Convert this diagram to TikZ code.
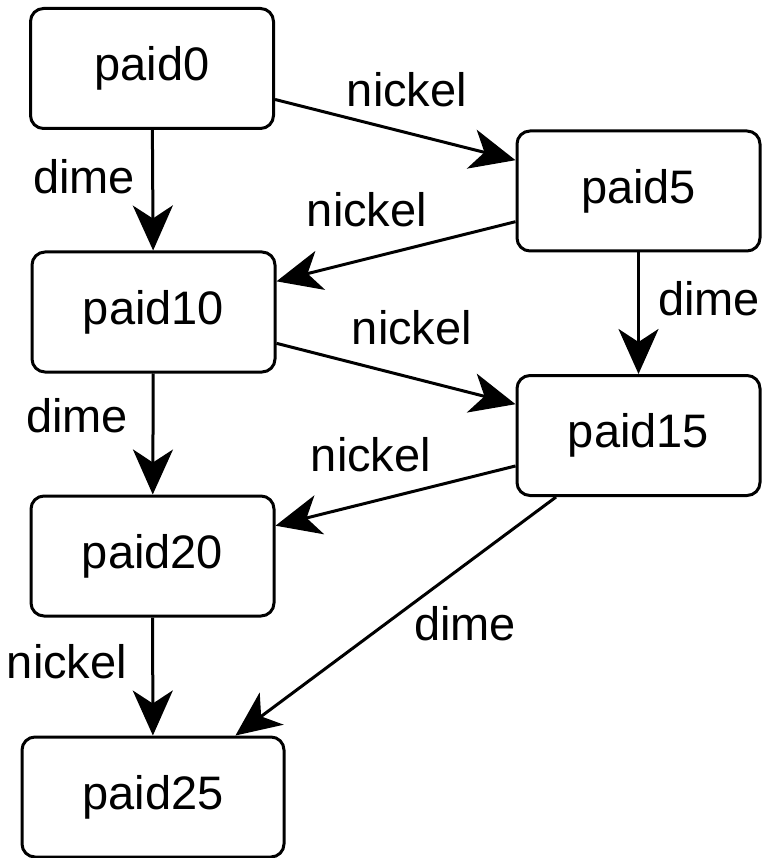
\documentclass[tikz,border=0pt]{standalone}
\usepackage{fontspec}
\setmainfont{Liberation Sans}
\usetikzlibrary{arrows.meta}
\begin{document}
\begin{tikzpicture}[x=1pt,y=-1pt,
  state/.style={draw,line width=3pt,rounded corners=13pt,minimum width=243pt,minimum height=120pt,inner sep=0pt,font=\fontsize{47}{56}\selectfont},
  lbl/.style={inner sep=0pt,font=\fontsize{47}{56}\selectfont},
  conn/.style={line width=3pt,-{Stealth[length=45pt,width=40pt,inset=13pt]}}]
\useasboundingbox (0,0) rectangle (764,858);
\node[state] (p0) at (152,68.5) {paid0};
\node[state] (p5) at (638.5,191) {paid5};
\node[state] (p10) at (153.5,312) {paid10};
\node[state] (p15) at (638.5,435.5) {paid15};
\node[state] (p20) at (152.5,556) {paid20};
\node[state,minimum width=262pt] (p25) at (153,797) {paid25};
\draw[conn] (p0) -- (p5) node[lbl] at (407,90) {nickel};
\draw[conn] (p0) -- (p10) node[lbl] at (84,177) {dime};
\draw[conn] (p5) -- (p10) node[lbl] at (367,210) {nickel};
\draw[conn] (p5) -- (p15) node[lbl] at (709,299) {dime};
\draw[conn] (p10) -- (p15) node[lbl] at (412,328) {nickel};
\draw[conn] (p10) -- (p20) node[lbl] at (77,416) {dime};
\draw[conn] (p15) -- (p20) node[lbl] at (371,455) {nickel};
\draw[conn] (p20) -- (p25) node[lbl] at (67,662) {nickel};
\draw[conn] (p15) -- (p25) node[lbl] at (465,624) {dime};
\end{tikzpicture}
\end{document}
